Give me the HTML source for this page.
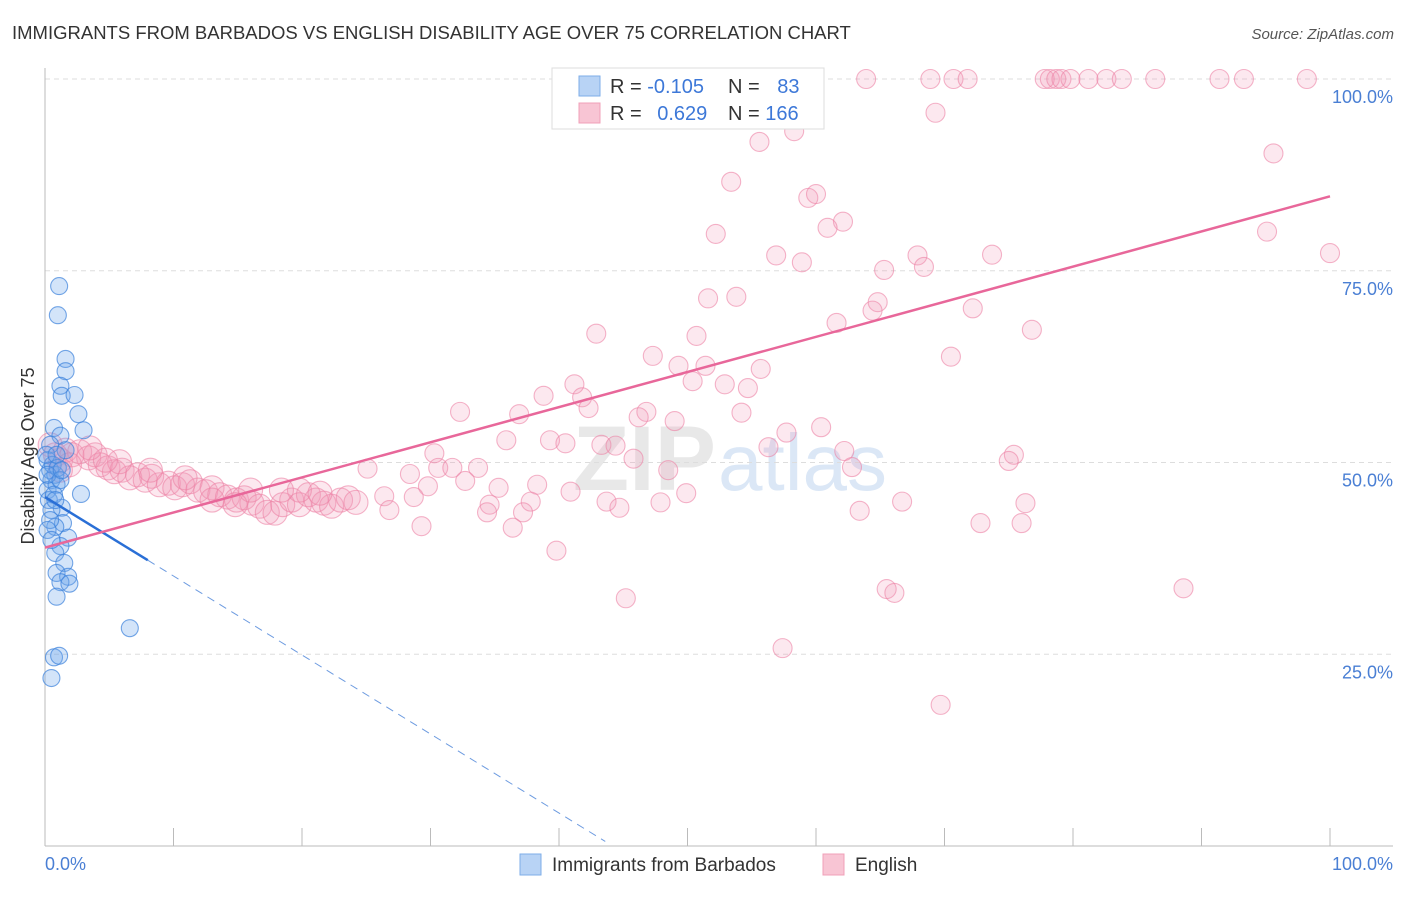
<!DOCTYPE html>
<html><head><meta charset="utf-8"><style>
body{margin:0;background:#fff;font-family:"Liberation Sans",sans-serif}
</style></head><body>
<svg id="chart" width="1406" height="892" xmlns="http://www.w3.org/2000/svg" font-family="Liberation Sans, sans-serif">
<text x="12" y="39" font-size="18.5" fill="#333">IMMIGRANTS FROM BARBADOS VS ENGLISH DISABILITY AGE OVER 75 CORRELATION CHART</text>
<text x="1394" y="39" font-size="15" fill="#555" text-anchor="end" font-style="italic">Source: ZipAtlas.com</text>
<text x="716" y="490" font-size="92" font-weight="bold" fill="#e8e8e8" text-anchor="end">ZIP</text>
<text x="718" y="490" font-size="80" fill="#dbe7f6">atlas</text>
<g id="grid"></g>
<g id="axes"></g>
<g id="pts"></g>
<g id="lines"></g>
<text transform="translate(34,456) rotate(-90)" font-size="18" fill="#333" text-anchor="middle">Disability Age Over 75</text>
<text x="45" y="870" font-size="18" fill="#4a7fd4">0.0%</text>
<text x="1393" y="870" font-size="18" fill="#4a7fd4" text-anchor="end">100.0%</text>
<g>
<rect x="552" y="68" width="272" height="61" fill="#fff" stroke="#ddd"/>
<rect x="579" y="76" width="21" height="20" fill="#b8d3f5" stroke="#7eaee8"/>
<rect x="579" y="103" width="21" height="20" fill="#f8c5d4" stroke="#f0a0b8"/>
<text x="610" y="93" font-size="20" fill="#333">R = <tspan fill="#3d78d8">-0.105</tspan></text>
<text x="728" y="93" font-size="20" fill="#333">N = <tspan fill="#3d78d8" dx="12">83</tspan></text>
<text x="610" y="120" font-size="20" fill="#333">R = <tspan fill="#3d78d8" dx="10">0.629</tspan></text>
<text x="728" y="120" font-size="20" fill="#333">N = <tspan fill="#3d78d8">166</tspan></text>
</g>
<g>
<rect x="520" y="854" width="21" height="21" fill="#b8d3f5" stroke="#7eaee8"/>
<text x="552" y="871" font-size="19" fill="#333">Immigrants from Barbados</text>
</g>
<g>
<rect x="823" y="854" width="21" height="21" fill="#f8c5d4" stroke="#f0a0b8"/>
<text x="855" y="871" font-size="19" fill="#333">English</text>
</g>
</svg>
<script>
const yTicks=[25,50,75,100];
const yTickLabels=["25.0%","50.0%","75.0%","100.0%"];
const xTickValues=[10,20,30,40,50,60,70,80,90,100];
const blueX=[1.1,1.0,1.6,1.6,1.2,1.3,2.3,2.6,3.0,0.7,1.2,1.6,0.4,2.8,1.3,1.4,0.8,1.8,1.2,0.8,1.5,0.9,1.8,1.2,1.9,0.9,6.6,0.7,1.1,0.5,0.2,0.4,0.5,0.2,0.8,0.6,0.3,0.5,0.9,0.1,1.0,0.7,0.4,0.2,0.5,0.9,0.2,1.2,0.8,1.3];
const blueY=[73.0,69.2,63.5,61.9,60.0,58.7,58.8,56.3,54.2,54.5,53.5,51.6,52.3,45.9,44.1,42.1,41.6,40.2,39.1,38.2,36.9,35.6,35.1,34.4,34.2,32.5,28.4,24.6,24.8,21.9,50.3,49.0,47.7,46.4,48.4,49.7,45.1,43.8,47.1,51.0,49.3,45.8,42.5,41.2,39.9,51.0,48.4,47.7,45.1,49.0];
const pinkX=[63.9,68.9,70.7,71.8,77.8,78.2,78.7,79.1,79.8,81.2,82.6,83.8,86.4,91.4,93.3,98.2,69.3,55.6,58.3,95.6,53.4,59.4,60.0,52.2,62.1,60.9,95.1,100,56.9,58.9,73.7,67.9,68.4,65.3,51.6,53.8,64.8,64.4,72.2,50.7,61.6,76.8,42.9,47.3,70.5,51.4,55.7,49.3,50.4,41.2,52.9,54.7,38.8,41.8,42.3,32.3,36.9,54.2,46.8,46.2,49.0,60.4,57.7,35.9,39.3,40.5,43.3,44.4,56.3,62.2,30.3,45.8,75.4,75.0,62.8,30.6,31.7,33.7,25.1,28.4,48.5,32.7,29.8,35.3,38.3,40.9,49.9,26.4,28.7,43.7,47.9,37.8,66.7,76.3,34.6,34.4,26.8,63.4,44.7,37.2,36.4,29.3,72.8,76.0,39.8,88.6,65.5,66.1,45.2,57.4,69.7,
0.4,0.8,1.2,1.6,2.1,2.7,3.4,3.9,4.3,4.9,5.4,6.0,6.6,7.2,7.8,8.3,8.9,9.6,10.1,10.7,11.3,11.9,12.5,13.0,13.6,14.2,14.9,15.5,16.1,16.7,17.3,17.9,18.5,19.2,19.8,20.5,21.1,21.7,22.3,23.0,23.6,24.2,19.8,21.4,18.4,16.0,14.8,13.0,10.9,8.2,5.8,4.7,3.5,1.9,1.2];
const pinkY=[100,100,100,100,100,100,100,100,100,100,100,100,100,100,100,100,95.6,91.8,93.2,90.3,86.6,84.5,85.0,79.8,81.4,80.6,80.1,77.3,77.0,76.1,77.1,77.0,75.5,75.1,71.4,71.6,70.9,69.8,70.1,66.5,68.2,67.3,66.8,63.9,63.8,62.6,62.2,62.6,60.6,60.2,60.2,59.7,58.7,58.5,57.1,56.6,56.3,56.5,56.6,55.9,55.4,54.6,53.9,52.9,52.9,52.5,52.3,52.2,52.0,51.5,51.2,50.5,51.0,50.2,49.4,49.3,49.3,49.3,49.2,48.5,49.0,47.6,46.9,46.7,47.1,46.2,46.0,45.6,45.5,44.9,44.8,44.9,44.9,44.7,44.5,43.5,43.8,43.7,44.1,43.5,41.5,41.7,42.1,42.1,38.5,33.6,33.5,33.0,32.3,25.8,18.4,
52.3,51.0,50.3,51.6,51.0,51.4,50.6,51.0,49.7,49.3,48.8,49.0,48.0,48.4,47.7,48.2,47.1,47.3,46.7,47.1,47.5,46.4,46.2,46.7,45.8,45.5,45.1,45.4,44.7,44.3,43.5,43.4,44.5,45.1,44.5,45.8,45.1,44.7,44.3,45.1,45.4,44.8,46.4,46.0,46.4,46.4,44.5,45.1,48.0,49.0,50.1,50.3,51.9,49.7,49.0];
const blueFit=[45.5,-1.03];
const blueSolidEnd=[8];
const blueDashEnd=[43.6];
const pinkFit=[38.9,0.458];

const NS="http://www.w3.org/2000/svg";
const X0=45,X1=1330,Y0=846,Y1=79;
const sx=v=>X0+(X1-X0)*v/100;
const sy=v=>Y0-(Y0-Y1)*v/100;
function mk(tag,attrs,parent){const e=document.createElementNS(NS,tag);for(const k in attrs)e.setAttribute(k,attrs[k]);document.getElementById(parent).appendChild(e);return e;}
yTicks.forEach((t,i)=>{
  const g=mk('line',{x1:X0,x2:1393,y1:sy(t),y2:sy(t),stroke:'#ddd','stroke-dasharray':'5,4'},'grid');
  
  
  const l=mk('text',{x:1393,y:sy(t)+24,'font-size':18,fill:'#4a7fd4','text-anchor':'end'},'grid');
  l.textContent=yTickLabels[i];
  
  
});
const ax=mk('line',{x1:X0,x2:X0,y1:68,y2:Y0,stroke:'#bbb'},'axes');


const bx=mk('line',{x1:X0,x2:1393,y1:Y0,y2:Y0,stroke:'#bbb'},'axes');


xTickValues.forEach(v=>{
  const t=mk('line',{x1:sx(v),x2:sx(v),y1:Y0,y2:828,stroke:'#bbb'},'axes');
  
  
});
pinkX.forEach((x,i)=>{
  const r=i>=pinkX.length-55?12:9.5;
  const c=mk('circle',{cx:sx(x),cy:sy(pinkY[i]),r:r,fill:'rgba(242,150,180,0.22)',stroke:'rgba(236,130,165,0.6)','stroke-width':1.1},'pts');
  
  
});
blueX.forEach((x,i)=>{
  const c=mk('circle',{cx:sx(x),cy:sy(blueY[i]),r:8.5,fill:'rgba(110,165,235,0.3)',stroke:'rgba(60,130,220,0.7)','stroke-width':1.1},'pts');
  
  
});
const by=v=>blueFit[0]+blueFit[1]*v;
const bl=mk('line',{x1:sx(0),y1:sy(by(0)),x2:sx(blueSolidEnd[0]),y2:sy(by(blueSolidEnd[0])),stroke:'#2a6fd6','stroke-width':2.5},'lines');


const bd=mk('line',{x1:sx(blueSolidEnd[0]),y1:sy(by(blueSolidEnd[0])),x2:sx(blueDashEnd[0]),y2:sy(by(blueDashEnd[0])),stroke:'#6d9be0','stroke-width':1,'stroke-dasharray':'8,6'},'lines');


const pl=mk('line',{x1:sx(0),y1:sy(pinkFit[0]),x2:sx(100),y2:sy(pinkFit[0]+pinkFit[1]*100),stroke:'#e8679a','stroke-width':2.5},'lines');


</script>
</body></html>
